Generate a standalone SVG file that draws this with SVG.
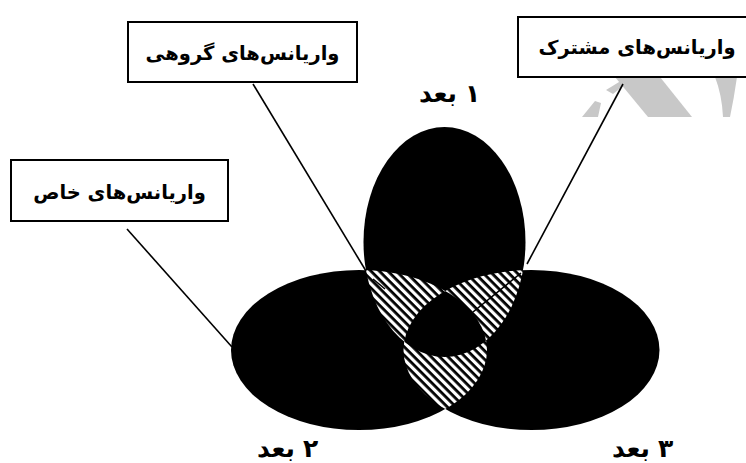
<svg xmlns="http://www.w3.org/2000/svg" width="746" height="463" viewBox="0 0 746 463">
<style>
.lbl{font-family:"DejaVu Sans",sans-serif;font-weight:bold;font-size:19.5px;fill:#000;text-anchor:middle}
.dim{font-family:"DejaVu Sans",sans-serif;font-weight:bold;font-size:25px;fill:#000}
.dim.w{text-anchor:end}
.dim.n{text-anchor:start}
.box{fill:#fff;stroke:#000;stroke-width:2}
.lead{stroke:#000;stroke-width:1.6;fill:none}
.blk{fill:#000}
.wm{fill:#c8c8c8}
</style>
<defs>
<pattern id="hatch" width="6" height="6" patternUnits="userSpaceOnUse" patternTransform="rotate(-45)">
<rect width="6" height="6" fill="#000"/>
<rect width="3.2" height="6" fill="#fff"/>
</pattern>
<clipPath id="c1"><ellipse cx="444.5" cy="242" rx="81" ry="115"/></clipPath>
<clipPath id="c2"><ellipse cx="359" cy="350" rx="128" ry="80"/></clipPath>
<clipPath id="c3"><ellipse cx="531.5" cy="350" rx="128" ry="80"/></clipPath>
</defs>
<rect width="746" height="463" fill="#fff"/>
<g id="watermark">
<polygon class="wm" points="615,77 660,77 692,117 648,117"/>
<polygon class="wm" points="582,117 598,117 601,103 595,101"/>
<polygon class="wm" points="606,90 613,94 632,79 624,79"/>
<path class="wm" d="M715,77 L737,77 Q734,98 730,117 L723,117 Q722,95 715,77 Z"/>
</g>
<g id="dim2"><ellipse class="blk" cx="359" cy="350" rx="128" ry="80"/></g>
<g id="dim3"><ellipse class="blk" cx="531.5" cy="350" rx="128" ry="80"/></g>
<g id="dim1"><ellipse class="blk" cx="444.5" cy="242" rx="81" ry="115"/></g>
<g id="overlaps">
<g clip-path="url(#c1)"><g clip-path="url(#c2)"><rect x="0" y="0" width="746" height="463" fill="url(#hatch)"/></g></g>
<g clip-path="url(#c1)"><g clip-path="url(#c3)"><rect x="0" y="0" width="746" height="463" fill="url(#hatch)"/></g></g>
<g clip-path="url(#c2)"><g clip-path="url(#c3)"><rect x="0" y="0" width="746" height="463" fill="url(#hatch)"/></g></g>
<g clip-path="url(#c1)"><g clip-path="url(#c2)"><ellipse class="blk" cx="531.5" cy="350" rx="128" ry="80"/></g></g>
</g>
<g id="connectors">
<line class="lead" x1="127" y1="229" x2="232" y2="347"/>
<line class="lead" x1="253" y1="84" x2="366" y2="271"/>
<line class="lead" x1="373" y1="279" x2="385" y2="289" stroke-width="2.5"/>
<line class="lead" x1="623" y1="84" x2="527" y2="264"/>
<line class="lead" x1="521" y1="273" x2="473" y2="312" stroke-width="2.6"/>
</g>
<g id="box-group">
<rect class="box" x="128" y="22" width="229" height="60"/>
<text class="lbl" x="242.5" y="60">واریانس‌های گروهی</text>
</g>
<g id="box-common">
<rect class="box" x="518" y="17" width="232" height="60"/>
<text class="lbl" x="637" y="54">واریانس‌های مشترک</text>
</g>
<g id="box-specific">
<rect class="box" x="11" y="160" width="217" height="61"/>
<text class="lbl" x="119.5" y="199">واریانس‌های خاص</text>
</g>
<g id="label-dim1">
<text class="dim w" x="457" y="102">بعد</text>
<text class="dim n" x="465" y="102">۱</text>
</g>
<g id="label-dim2">
<text class="dim w" x="295" y="457">بعد</text>
<text class="dim n" x="303" y="457">۲</text>
</g>
<g id="label-dim3">
<text class="dim w" x="650" y="457">بعد</text>
<text class="dim n" x="658" y="457">۳</text>
</g>
</svg>
